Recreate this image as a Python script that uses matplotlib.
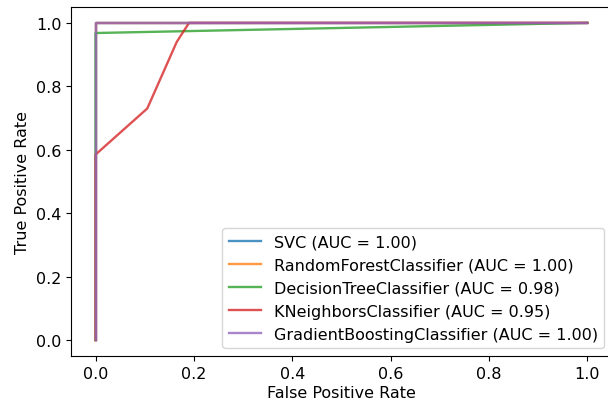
import matplotlib
matplotlib.use("Agg")
import matplotlib.pyplot as plt

# ROC curve points
svc_fpr = [0.0, 0.0, 1.0]
svc_tpr = [0.0, 1.0, 1.0]
rf_fpr = [0.0, 0.0, 1.0]
rf_tpr = [0.0, 1.0, 1.0]
dt_fpr = [0.0, 0.0, 1.0]
dt_tpr = [0.0, 0.968, 1.0]
knn_fpr = [0.0, 0.0, 0.105, 0.165, 0.19, 1.0]
knn_tpr = [0.0, 0.585, 0.73, 0.94, 1.0, 1.0]
gb_fpr = [0.0, 0.0, 1.0]
gb_tpr = [0.0, 1.0, 1.0]

names = ["SVC", "RandomForestClassifier", "DecisionTreeClassifier",
         "KNeighborsClassifier", "GradientBoostingClassifier"]
aucs = [1.00, 1.00, 0.98, 0.95, 1.00]

plt.rcParams["font.size"] = 11.5

fig = plt.figure(figsize=(6.08, 4.06), dpi=100)
ax = fig.add_axes([0.1168, 0.1207, 0.8898, 0.8596])

curves = [(svc_fpr, svc_tpr), (rf_fpr, rf_tpr), (dt_fpr, dt_tpr),
          (knn_fpr, knn_tpr), (gb_fpr, gb_tpr)]
for (fpr, tpr), name, auc in zip(curves, names, aucs):
    ax.plot(fpr, tpr, alpha=0.8, linewidth=1.7,
            label="%s (AUC = %.2f)" % (name, auc))

ax.set_xlabel("False Positive Rate", labelpad=3)
ax.set_ylabel("True Positive Rate")
ax.legend(loc="lower right")

fig.savefig("out.png", dpi=100)
